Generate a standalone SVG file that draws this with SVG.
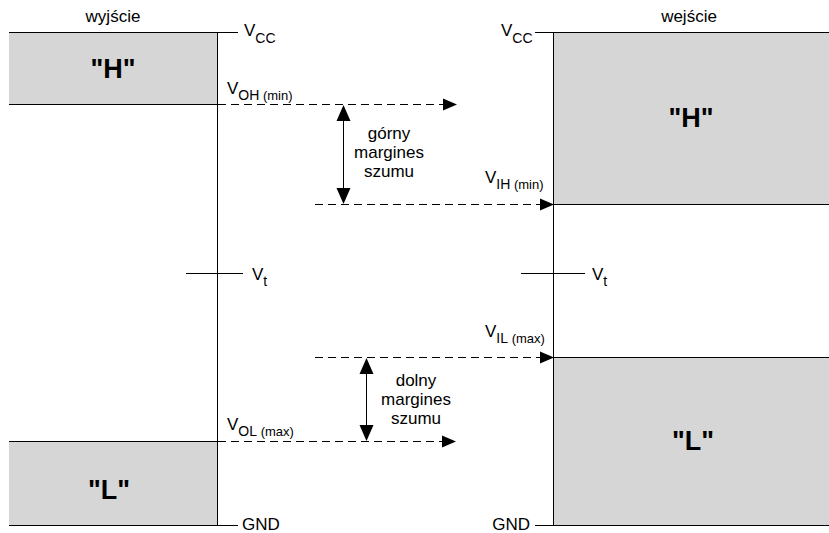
<svg xmlns="http://www.w3.org/2000/svg" width="829" height="533" viewBox="0 0 829 533">
<defs>
<style>
text{font-family:"Liberation Sans",Arial,sans-serif;fill:#000}
.lbl{font-size:17px}
.sub{font-size:14px}
.sm{font-size:13px}
.big{font-size:27px;font-weight:bold}
.ln{stroke:#000;stroke-width:1;fill:none}
.dash{stroke:#000;stroke-width:1;fill:none;stroke-dasharray:8,5}
.box{fill:#d6d6d6;stroke:none}
.ah{fill:#000}
</style>
</defs>
<rect width="829" height="533" fill="#fff"/>
<g id="out-H"><rect class="box" x="9" y="32" width="208" height="72"/><text class="big" x="113" y="78" text-anchor="middle">"H"</text></g>
<g id="out-L"><rect class="box" x="9" y="441" width="208" height="84"/><text class="big" x="109" y="499" text-anchor="middle">"L"</text></g>
<g id="in-H"><rect class="box" x="554" y="32" width="275" height="172"/><text class="big" x="691" y="127" text-anchor="middle">"H"</text></g>
<g id="in-L"><rect class="box" x="554" y="357" width="275" height="168"/><text class="big" x="693" y="450" text-anchor="middle">"L"</text></g>
<g id="axes">
<path class="ln" d="M9 32.5H238M217.5 32V525M9 104.5H217M9 441.5H217M9 525.5H238M186 273.5H243"/>
<path class="ln" d="M535 32.5H829M553.5 32V525M554 204.5H829M554 357.5H829M535 525.5H829M521 273.5H585"/>
</g>
<g id="labels" class="lbl">
<text x="113" y="22" text-anchor="middle">wyjście</text>
<text x="689" y="22" text-anchor="middle">wejście</text>
<text x="244" y="36">V<tspan class="sub" dy="7">CC</tspan></text>
<text x="501" y="36">V<tspan class="sub" dy="7">CC</tspan></text>
<text x="227" y="94">V<tspan class="sub" dy="6">OH</tspan><tspan class="sm"> (min)</tspan></text>
<text x="485" y="183">V<tspan class="sub" dy="6">IH</tspan><tspan class="sm"> (min)</tspan></text>
<text x="252" y="280">V<tspan class="sub" dy="6">t</tspan></text>
<text x="592" y="280">V<tspan class="sub" dy="6">t</tspan></text>
<text x="485" y="337">V<tspan class="sub" dy="6">IL</tspan><tspan class="sm"> (max)</tspan></text>
<text x="227" y="430">V<tspan class="sub" dy="6">OL</tspan><tspan class="sm"> (max)</tspan></text>
<text x="242" y="530">GND</text>
<text x="530" y="530" text-anchor="end">GND</text>
<text x="389" y="139" text-anchor="middle">górny</text>
<text x="389" y="158" text-anchor="middle">margines</text>
<text x="389" y="177" text-anchor="middle">szumu</text>
<text x="416" y="386" text-anchor="middle">dolny</text>
<text x="416" y="405" text-anchor="middle">margines</text>
<text x="416" y="424" text-anchor="middle">szumu</text>
</g>
<g id="connectors">
<path class="dash" d="M218 104.5H444"/>
<polygon class="ah" points="457,104.5 443,98.5 443,110.5"/>
<path class="dash" d="M315 204.5H540"/>
<polygon class="ah" points="554,204.5 540,198.5 540,210.5"/>
<path class="dash" d="M315 357.5H540"/>
<polygon class="ah" points="554,357.5 540,351.5 540,363.5"/>
<path class="dash" d="M218 441.5H443"/>
<polygon class="ah" points="456,441.5 442,435.5 442,447.5"/>
<path class="ln" d="M343.5 118V190"/>
<polygon class="ah" points="343.5,105 336.5,121 350.5,121"/>
<polygon class="ah" points="343.5,204 336.5,188 350.5,188"/>
<path class="ln" d="M366.5 371V427"/>
<polygon class="ah" points="366.5,358 359.5,374 373.5,374"/>
<polygon class="ah" points="366.5,441 359.5,425 373.5,425"/>
</g>
</svg>
